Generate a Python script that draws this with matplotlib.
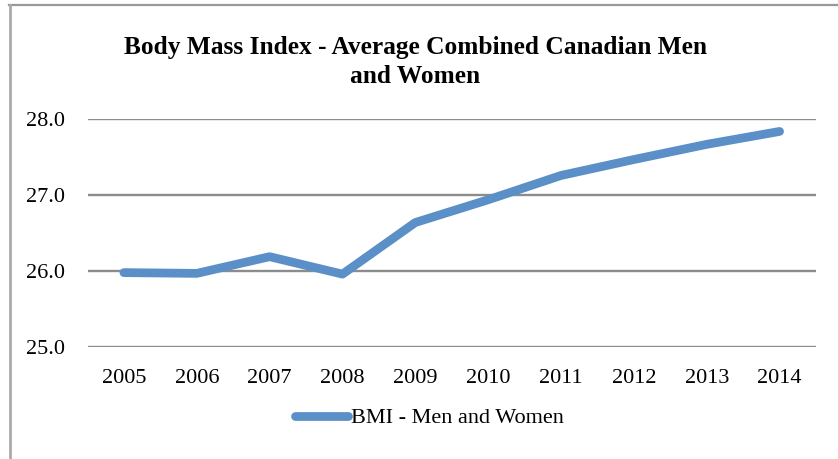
import matplotlib
matplotlib.use("Agg")
import matplotlib.pyplot as plt
from matplotlib.lines import Line2D

years = ["2005", "2006", "2007", "2008", "2009", "2010", "2011", "2012", "2013", "2014"]
bmi = [25.98, 25.97, 26.19, 25.96, 26.64, 26.94, 27.26, 27.47, 27.67, 27.84]
yticks = [25.0, 26.0, 27.0, 28.0]
title = "Body Mass Index - Average Combined Canadian Men\nand Women"
series_name = "BMI - Men and Women"

W, H = 838, 459
fig = plt.figure(figsize=(W / 100, H / 100), dpi=100)
fig.patch.set_facecolor("white")

serif = ["Liberation Serif", "DejaVu Serif"]

# outer frame lines (top and left)
fig.add_artist(Line2D([9 / W, 1.0], [1 - 5 / H, 1 - 5 / H], color="#999999", lw=1.6, transform=fig.transFigure))
fig.add_artist(Line2D([10 / W, 10 / W], [0, 1 - 5 / H], color="#aaaaaa", lw=2.0, transform=fig.transFigure))

left, right = 87.5 / W, 816 / W
bottom, top = 1 - 347 / H, 1 - 119.3 / H
ax = fig.add_axes([left, bottom, right - left, top - bottom])
x = list(range(len(years)))
ax.plot(x, bmi, color="#5B8FC8", lw=6.3, solid_capstyle="round", solid_joinstyle="round", zorder=3)
ax.set_xlim(-0.5, len(years) - 0.5)
ax.set_ylim(25.0, 28.0)
ax.set_yticks(yticks)
ax.set_yticklabels([f"{v:.1f}" for v in yticks], fontfamily=serif, fontsize=16)
ax.set_xticks(x)
ax.set_xticklabels(years, fontfamily=serif, fontsize=16)
ax.tick_params(axis="both", length=0)
ax.tick_params(axis="y", pad=16)
ax.tick_params(axis="x", pad=16)
ax.grid(axis="y", color="#8c8c8c", lw=1.7, zorder=1)
ax.set_axisbelow(True)
for s in ax.spines.values():
    s.set_visible(False)

fig.text(415 / W, 1 - 62 / H, title, ha="center", va="center",
         fontfamily=serif, fontweight="bold", fontsize=18.3, linespacing=1.35)

leg = ax.legend([Line2D([], [], color="#5B8FC8", lw=6.3, solid_capstyle="round")], [series_name],
                loc="center", bbox_to_anchor=((296 + 563) / 2 / W, 1 - 418 / H),
                bbox_transform=fig.transFigure, frameon=False, handlelength=2.4,
                handletextpad=0.15, prop={"family": serif, "size": 16})

fig.savefig("out.png", dpi=100, facecolor="white")
